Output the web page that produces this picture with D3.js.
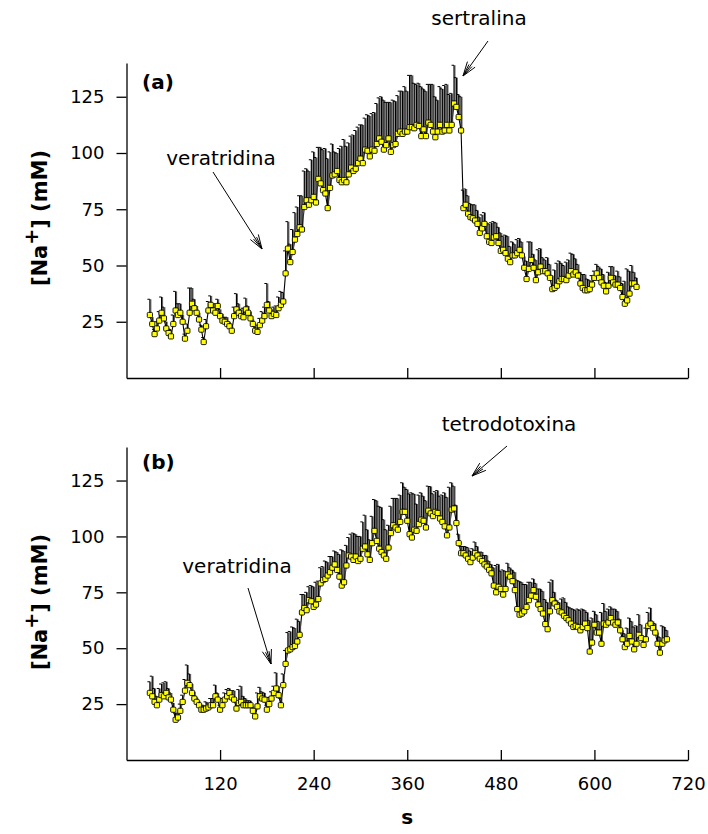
<!DOCTYPE html>
<html><head><meta charset="utf-8">
<script src="https://cdn.jsdelivr.net/npm/d3@7"></script>
<style>body{margin:0;background:#fff}svg{display:block}</style>
</head><body>
<svg id="c" width="708" height="834"></svg>
<script>
// ---- data ----
const xTicks = [120, 240, 360, 480, 600, 720];
const yTicks = [25, 50, 75, 100, 125];
const sampleStart = 30;   // s, first sample
const sampleStep = 3;     // s between samples

// panel (a): veratridina then sertralina
const naA = [
 28,24,19.5,22,25.5,29,26.5,22,20,18.5,24,30,28,29,25,17.5,21,29,33,31,29,26,21.5,16,23,30,32.5,30,29,32,27.5,25.5,25,24,23,21,27.5,30.5,29,27.5,27,30.5,29,26.5,24,21,20.5,23.5,25.5,27.5,32.5,30,27.5,28.5,28,31,32.5,34,
 46.5,57.5,51.5,56,61.5,64,67,66,76,79,77,79,80.5,78,88.5,86.5,83.5,82,75.5,84.5,90,90.5,92,88,87,88,87,90.5,93.5,92,93,95.5,97.5,95.5,101.5,101,98.5,101.5,101,104,106.5,105,101.5,103.5,106.5,100.5,103.5,104,108.5,109.5,108.5,109.5,109.5,111.5,111.5,111,112.5,112,107.5,110.5,107.5,113.5,112.5,109.5,107,109.5,112.5,109.5,110,112.5,110,112.5,122,120.5,116,110,
 75.5,77,73,71.5,71,70,68.5,64.5,66.5,68.5,63,60.5,60,62.5,63,60,56.5,57,55.5,53,51.5,54.5,54.5,55.5,57,54.5,49,44,48.5,52.5,49,43.5,47,49.5,47.5,47.5,46.5,44.5,39.5,40,41,43,44,44,43.5,45.5,47.5,46,47,45.5,42,40,39,39,39.5,41.5,44.5,46.5,44.5,42.5,41,38.5,41,44.5,42.5,41.5,41.5,40,36,33,34.5,37.5,42,42,40.5
];
const errA = [
 7,3,2,3,4,7,5,3,2,3,4,8.5,5,4,3,2,3,11,7,4,3,3,2,2,3,4,4,3,4,3,3,3,2,3,2,2,4,7,4,3,4,5,3,3,2,2,3,3,4,4,9.5,4,3,3,4,5,6,4,
 10,12,8,10,12,12,14,15,16,14,15,18,20,20,14,16,18,20,22,16,14,10,8,14,16,18,16,14,14,16,17,16,15,17,14,16,18,16,17,18,18,20,22,19,16,22,20,19,17,18,19,20,18,23,23,20,18,19,22,18,20,17,18,21,18,14,17,19,20,18,16,14,17,13,10,15,
 8,7,8,6,6,7,6,7,6,5,6,8,9,7,6,7,8,6,8,10,7,6,5,6,5,6,5,8,12,8,6,9,10,8,6,5,7,6,6,8,10,9,7,6,8,7,8,9,6,5,5,6,7,5,4,4,3,4,5,6,5,4,6,5,7,4,6,5,6,10,14,10,8,5,4
];

// panel (b): veratridina then tetrodotoxina
const naB = [
 30,28.5,26,24.5,27,29,28.5,30,28,27,22.5,18,19,22,26,31,34.5,33.5,30,27.5,26,24.5,22.5,22.5,23,23.5,24.5,24.5,28.5,27,22.5,24.5,27,28.5,30,28,27,23,25.5,26,24.5,24.5,24.5,24.5,22,19.5,24,28.5,27.5,27,22.5,25,27.5,30,32,29,24.5,33.5,
 43,49,49.5,50.5,51,53,56,66,68,67,71.5,71,68.5,69.5,72,79,80.5,81,82.5,84,86,87.5,85,82,78,79.5,87,91.5,91,89.5,91,89,90,94.5,95.5,92,89.5,97,102.5,98,94.5,93,91.5,90,95,101.5,105,104,103,106.5,111,111,107,101,99.5,103,102.5,105.5,107.5,107,104,111.5,110.3,109.1,111,110.5,108,106.5,104.5,100.5,104,112,112.5,106,
 97,92.5,92.5,91.5,90,88.5,90.5,92.5,91.5,90,89,87.5,86.5,85,83.5,78,75,77.5,76.5,74,76.5,83,82,80,76,67.5,65,65.5,66.5,68.5,71.5,73.5,76,73,69.5,67.5,65.5,60.8,58.5,66.5,71.5,70,68.5,66.5,66,64.5,63.5,62.5,61,59.5,60,59.5,58,59.5,61,59,48.5,52.5,60.5,57,57,52,61,60.5,61.5,63.5,61.5,60.5,61.5,58,54,50.5,52,55.5,53,49.5,52,56,54.5,51.5,54,60,61,59,57,52,48,52,53.5,54
];
const errB = [
 5,9,6,4,5,5,6,5,4,3,3,3,2,3,3,5,8,5,4,3,2,2,2,2,3,2,3,3,5,3,2,3,3,3,2,3,4,3,6,7,4,3,2,2,2,2,6,4,3,3,2,3,3,3,7,4,3,5,
 6,8,8,9,8,10,6,8,6,8,6,7,9,10,8,7,6,8,6,7,5,6,8,10,16,14,9,8,10,12,10,11,10,12,14,11,9,12,14,18,19,20,16,13,10,12,12,13,14,12,13,11,14,18,20,16,12,13,12,11,12,11,12,10,9,10,10,12,15,17,18,12,10,8,
 4,3,3,4,5,5,4,5,4,3,4,4,5,4,4,8,12,10,8,11,8,5,4,5,8,13,15,14,12,10,8,6,5,6,7,9,10,11,12,13,9,5,3,4,6,8,7,6,7,8,7,8,9,8,6,7,14,11,6,8,5,14,9,6,6,5,6,7,5,5,4,6,7,8,9,10,8,9,6,4,5,6,7,3,4,5,7,8,6,4
];

// ---- drawing ----
const FONT = "'DejaVu Sans', 'Liberation Sans', Arial, sans-serif";
const svg = d3.select("#c");
const x = d3.scaleLinear().domain([0, 720]).range([126.5, 688]);

const panels = [
  {vals: naA, errs: errA, top: 63, bottom: 378, tag: "(a)", tagY: 89, titleY: 218, showX: false},
  {vals: naB, errs: errB, top: 447, bottom: 760, tag: "(b)", tagY: 469, titleY: 602, showX: true}
];

panels.forEach(p => {
  const y = d3.scaleLinear().domain([0, 140]).range([p.bottom, p.top]);
  const g = svg.append("g");

  // axes
  const ax = d3.axisBottom(x).tickValues(xTicks).tickSizeInner(-10).tickSizeOuter(0)
    .tickPadding(17).tickFormat(p.showX ? d3.format("d") : () => "");
  const gx = g.append("g").attr("transform", `translate(0,${p.bottom})`).call(ax);
  const ay = d3.axisLeft(y).tickValues(yTicks).tickSizeInner(10).tickSizeOuter(0).tickPadding(12);
  const gy = g.append("g").attr("transform", `translate(126.5,0)`).call(ay);
  [gx, gy].forEach(a => {
    a.selectAll("path,line").attr("stroke", "#000").attr("stroke-width", 1.3);
    a.selectAll("text").attr("font-family", FONT).attr("font-size", 18).attr("fill", "#000");
  });

  const pts = p.vals.map((v, i) => ({t: sampleStart + i * sampleStep, v, e: p.errs[i] || 0}));

  // connecting line
  g.append("path").datum(pts)
    .attr("d", d3.line().x(d => x(d.t)).y(d => y(d.v)))
    .attr("fill", "none").attr("stroke", "#000").attr("stroke-width", 1.1);

  // error bars (upper only) with a gray shade and a small cap
  const eb = g.append("g");
  eb.selectAll("line.sh").data(pts).join("line").attr("class", "sh")
    .attr("x1", d => x(d.t) + 1).attr("x2", d => x(d.t) + 1)
    .attr("y1", d => y(d.v)).attr("y2", d => y(d.v + d.e))
    .attr("stroke", "#666").attr("stroke-width", 1);
  eb.selectAll("line.bar").data(pts).join("line").attr("class", "bar")
    .attr("x1", d => x(d.t)).attr("x2", d => x(d.t))
    .attr("y1", d => y(d.v)).attr("y2", d => y(d.v + d.e))
    .attr("stroke", "#000").attr("stroke-width", 1.2);
  eb.selectAll("line.cap").data(pts).join("line").attr("class", "cap")
    .attr("x1", d => x(d.t) - 2.5).attr("x2", d => x(d.t))
    .attr("y1", d => y(d.v + d.e)).attr("y2", d => y(d.v + d.e))
    .attr("stroke", "#000").attr("stroke-width", 1);

  // markers
  g.append("g").selectAll("rect").data(pts).join("rect")
    .attr("x", d => x(d.t) - 2.6).attr("y", d => y(d.v) - 2.6)
    .attr("width", 5.2).attr("height", 5.2).attr("rx", 1)
    .attr("fill", "#ffff00").attr("stroke", "#000").attr("stroke-width", 0.9);

  // panel tag
  g.append("text").attr("x", 142).attr("y", p.tagY).text(p.tag)
    .attr("font-family", FONT).attr("font-size", 20).attr("font-weight", "bold");

  // y title
  const tt = g.append("text").attr("transform", `translate(47,${p.titleY}) rotate(-90)`)
    .attr("text-anchor", "middle").attr("font-family", FONT).attr("font-size", 21).attr("font-weight", "bold");
  tt.append("tspan").text("[Na");
  tt.append("tspan").attr("dy", -9).attr("font-size", 19).text("+");
  tt.append("tspan").attr("dy", 9).text("] (mM)");
});

// x title
svg.append("text").attr("x", x(360)).attr("y", 824).attr("text-anchor", "middle")
  .attr("font-family", FONT).attr("font-size", 20).attr("font-weight", "bold").text("s");

// annotations with arrows
const notes = [
  {text: "veratridina", tx: 221, ty: 165, x1: 213, y1: 172, x2: 262, y2: 249},
  {text: "sertralina", tx: 479, ty: 25, x1: 488, y1: 41, x2: 463, y2: 76},
  {text: "veratridina", tx: 237, ty: 573, x1: 248, y1: 588, x2: 271, y2: 664},
  {text: "tetrodotoxina", tx: 509, ty: 431, x1: 507, y1: 446, x2: 472, y2: 476}
];
notes.forEach(n => {
  svg.append("text").attr("x", n.tx).attr("y", n.ty).attr("text-anchor", "middle")
    .attr("font-family", FONT).attr("font-size", 20).text(n.text);
  const ang = Math.atan2(n.y2 - n.y1, n.x2 - n.x1);
  const a = svg.append("g").attr("stroke", "#000").attr("stroke-width", 1).attr("fill", "none");
  a.append("line").attr("x1", n.x1).attr("y1", n.y1).attr("x2", n.x2).attr("y2", n.y2);
  [[0.32, 15], [-0.32, 15], [0.14, 13], [-0.14, 13]].forEach(([da, len]) => {
    const b = ang + Math.PI + da;
    a.append("line").attr("x1", n.x2).attr("y1", n.y2)
      .attr("x2", n.x2 + len * Math.cos(b)).attr("y2", n.y2 + len * Math.sin(b));
  });
});
</script>
</body></html>
